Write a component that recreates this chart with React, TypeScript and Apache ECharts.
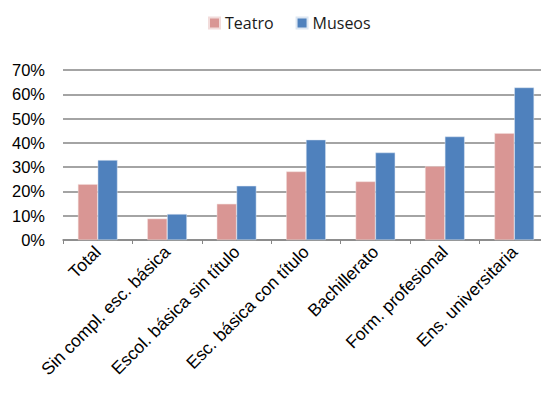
import React, { useEffect, useRef } from "react";
import * as echarts from "echarts";

const categories = [
  "Total",
  "Sin compl. esc. básica",
  "Escol. básica sin título",
  "Esc. básica con título",
  "Bachillerato",
  "Form. profesional",
  "Ens. universitaria",
];
const teatro = [23.0, 8.8, 14.9, 28.2, 24.1, 30.4, 44.0];
const museos = [32.9, 10.7, 22.3, 41.3, 36.0, 42.6, 62.8];
const seriesNames = ["Teatro", "Museos"];

export default function App() {
  const ref = useRef<HTMLDivElement>(null);
  useEffect(() => {
    const chart = echarts.init(ref.current!, null, { renderer: "svg" });
    const font = "'Liberation Sans', Arial, sans-serif";
    chart.setOption({
      animation: false,
      legend: {
        data: seriesNames,
        top: 10,
        left: 203,
        itemWidth: 11,
        itemHeight: 11,
        itemGap: 22,
        icon: "rect",
        textStyle: { fontSize: 16, color: "#1a1a1a", fontFamily: "'Open Sans', Carlito, sans-serif" },
      },
      grid: { left: 63, width: 486, top: 70, height: 170, outerBoundsMode: "none", containLabel: false },
      xAxis: {
        type: "category",
        data: categories,
        axisLine: { lineStyle: { color: "#868686", width: 1.5 } },
        axisTick: { show: true, length: 4, lineStyle: { color: "#868686", width: 1 } },
        axisLabel: {
          rotate: 45,
          interval: 0,
          fontSize: 17.5,
          color: "#000",
          fontFamily: font,
          margin: 9,
        },
      },
      yAxis: {
        type: "value",
        min: 0,
        max: 70,
        interval: 10,
        axisLine: { show: false },
        axisTick: { show: false },
        axisLabel: {
          formatter: "{value}%",
          fontSize: 16.5,
          color: "#000",
          fontFamily: font,
          margin: 18,
        },
        splitLine: { lineStyle: { color: "#868686", width: 1.5 } },
      },
      series: [
        {
          name: seriesNames[0],
          type: "bar",
          data: teatro,
          barGap: "0%",
          barCategoryGap: "43%",
          itemStyle: { color: "#D99694", borderColor: "#F2DCDB", borderWidth: 0.5 },
        },
        {
          name: seriesNames[1],
          type: "bar",
          data: museos,
          barGap: "0%",
          barCategoryGap: "43%",
          itemStyle: { color: "#4F81BD", borderColor: "#DCE6F2", borderWidth: 0.5 },
        },
      ],
    });
    return () => chart.dispose();
  }, []);
  return (
    <div
      ref={ref}
      style={{ position: "absolute", left: 0, top: 0, width: 541, height: 394, background: "#fff" }}
    />
  );
}
